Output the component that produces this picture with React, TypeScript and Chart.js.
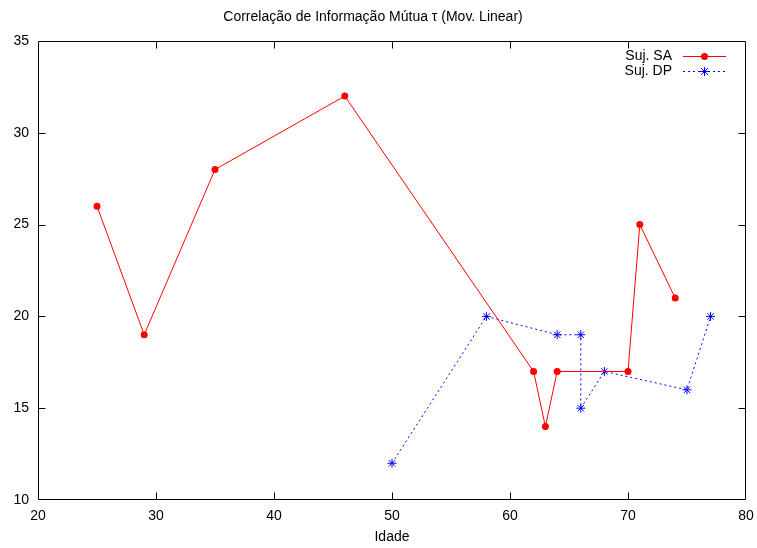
import React, { useEffect, useRef } from "react";
import { Chart, registerables } from "chart.js";

Chart.register(...registerables);

const TITLE = "Correlação de Informação Mútua τ (Mov. Linear)";
const X_TITLE = "Idade";

const saAges = [25, 29, 35, 46, 62, 63, 64, 70, 71, 74];
const saValues = [26, 19, 28, 32, 17, 14, 17, 17, 25, 21];

const dpAges = [50, 58, 64, 66, 66, 68, 75, 77];
const dpValues = [12, 20, 19, 19, 15, 17, 16, 20];

const seriesLabels = ["Suj. SA", "Suj. DP"];
const FONT = "'Liberation Sans', Arial, sans-serif";
const FS = 14;

function drawMarker(ctx: CanvasRenderingContext2D, style: string, x: number, y: number, color: string) {
  ctx.save();
  ctx.strokeStyle = color;
  ctx.fillStyle = color;
  ctx.lineWidth = 1;
  ctx.setLineDash([]);
  if (style === "circle") {
    ctx.beginPath();
    ctx.arc(x, y, 3.5, 0, Math.PI * 2);
    ctx.fill();
  } else {
    const r = 4.5;
    const d = r * 0.75;
    ctx.beginPath();
    ctx.moveTo(x - r, y);
    ctx.lineTo(x + r, y);
    ctx.moveTo(x, y - r);
    ctx.lineTo(x, y + r);
    ctx.moveTo(x - d, y - d);
    ctx.lineTo(x + d, y + d);
    ctx.moveTo(x - d, y + d);
    ctx.lineTo(x + d, y - d);
    ctx.stroke();
  }
  ctx.restore();
}

const framePlugin = {
  id: "gnuFrame",
  beforeDatasetsDraw(chart: any) {
    const { ctx, chartArea } = chart;
    const { left, right, top, bottom } = chartArea;
    const xs = chart.scales.x;
    const ys = chart.scales.y;
    const tl = 7;
    ctx.save();
    ctx.strokeStyle = "#000";
    ctx.lineWidth = 1;
    ctx.beginPath();
    const L = Math.round(left) + 0.5;
    const R = Math.round(right) - 0.5;
    const T = Math.round(top) + 0.5;
    const B = Math.round(bottom) - 0.5;
    ctx.rect(L, T, R - L, B - T);
    xs.ticks.forEach((t: any) => {
      const px = Math.round(xs.getPixelForValue(t.value)) + 0.5;
      if (px <= L + 1 || px >= R - 1) return;
      ctx.moveTo(px, B);
      ctx.lineTo(px, B - tl);
      ctx.moveTo(px, T);
      ctx.lineTo(px, T + tl);
    });
    ys.ticks.forEach((t: any) => {
      const py = Math.round(ys.getPixelForValue(t.value)) + 0.5;
      if (py <= T + 1 || py >= B - 1) return;
      ctx.moveTo(L, py);
      ctx.lineTo(L + tl, py);
      ctx.moveTo(R, py);
      ctx.lineTo(R - tl, py);
    });
    ctx.stroke();
    ctx.restore();
  },
  afterDatasetsDraw(chart: any) {
    const { ctx } = chart;
    const textRight = 672;
    const lineStart = 683;
    const lineEnd = 726;
    const y0 = 56;
    const dy = 15;
    chart.data.datasets.forEach((ds: any, i: number) => {
      const y = y0 + i * dy;
      ctx.save();
      ctx.font = `${FS}px ${FONT}`;
      ctx.fillStyle = "#000";
      ctx.textAlign = "right";
      ctx.textBaseline = "middle";
      ctx.fillText(ds.label, textRight, y);
      ctx.strokeStyle = ds.borderColor;
      ctx.lineWidth = ds.borderWidth;
      ctx.setLineDash(ds.borderDash || []);
      ctx.beginPath();
      ctx.moveTo(lineStart, y + 0.5);
      ctx.lineTo(lineEnd, y + 0.5);
      ctx.stroke();
      ctx.restore();
      drawMarker(ctx, ds.pointStyle, (lineStart + lineEnd) / 2, y + 0.5, ds.borderColor);
    });
  },
};

export default function App() {
  const ref = useRef<HTMLCanvasElement | null>(null);
  useEffect(() => {
    document.body.style.margin = "0";
    const canvas = ref.current;
    if (!canvas) return;
    const chart = new Chart(canvas, {
      type: "scatter",
      data: {
        datasets: [
          {
            label: seriesLabels[0],
            data: saAges.map((a, i) => ({ x: a, y: saValues[i] })),
            showLine: true,
            borderColor: "#ff0000",
            backgroundColor: "#ff0000",
            borderWidth: 1,
            pointStyle: "circle",
            pointRadius: 3.5,
            pointBorderWidth: 0,
            pointHoverRadius: 3.5,
          },
          {
            label: seriesLabels[1],
            data: dpAges.map((a, i) => ({ x: a, y: dpValues[i] })),
            showLine: true,
            borderColor: "#0000ff",
            backgroundColor: "#0000ff",
            borderWidth: 1,
            borderDash: [2, 3],
            pointStyle: "star",
            pointRadius: 4.5,
            pointBorderWidth: 1,
            pointHoverRadius: 4.5,
          },
        ],
      },
      options: {
        animation: false,
        responsive: false,
        events: [],
        layout: { padding: { left: 0, right: 11, top: 0, bottom: 0 } },
        plugins: {
          legend: { display: false },
          tooltip: { enabled: false },
          title: {
            display: true,
            text: TITLE,
            color: "#000",
            font: { family: FONT, size: FS, weight: "normal" },
            padding: { top: 9, bottom: 15.2 },
          },
        },
        scales: {
          x: {
            type: "linear",
            min: 20,
            max: 80,
            grid: { display: false, drawTicks: false },
            border: { display: false },
            ticks: {
              stepSize: 10,
              color: "#000",
              padding: 8,
              font: { family: FONT, size: FS },
              maxRotation: 0,
            },
            title: {
              display: true,
              text: X_TITLE,
              color: "#000",
              font: { family: FONT, size: FS },
              padding: { top: 0, bottom: 2 },
            },
            afterFit: (s: any) => {
              s.height = 48;
              s.paddingLeft = 0;
              s.paddingRight = 0;
            },
          },
          y: {
            type: "linear",
            min: 10,
            max: 35,
            grid: { display: false, drawTicks: false },
            border: { display: false },
            ticks: {
              stepSize: 5,
              color: "#000",
              padding: 9,
              font: { family: FONT, size: FS },
            },
            afterFit: (s: any) => {
              s.width = 38;
              s.paddingTop = 0;
              s.paddingBottom = 0;
            },
          },
        },
      },
      plugins: [framePlugin],
    });
    return () => chart.destroy();
  }, []);
  return (
    <canvas
      ref={ref}
      width={757}
      height={548}
      style={{ display: "block", position: "absolute", left: 0, top: 0, background: "#fff" }}
    />
  );
}
